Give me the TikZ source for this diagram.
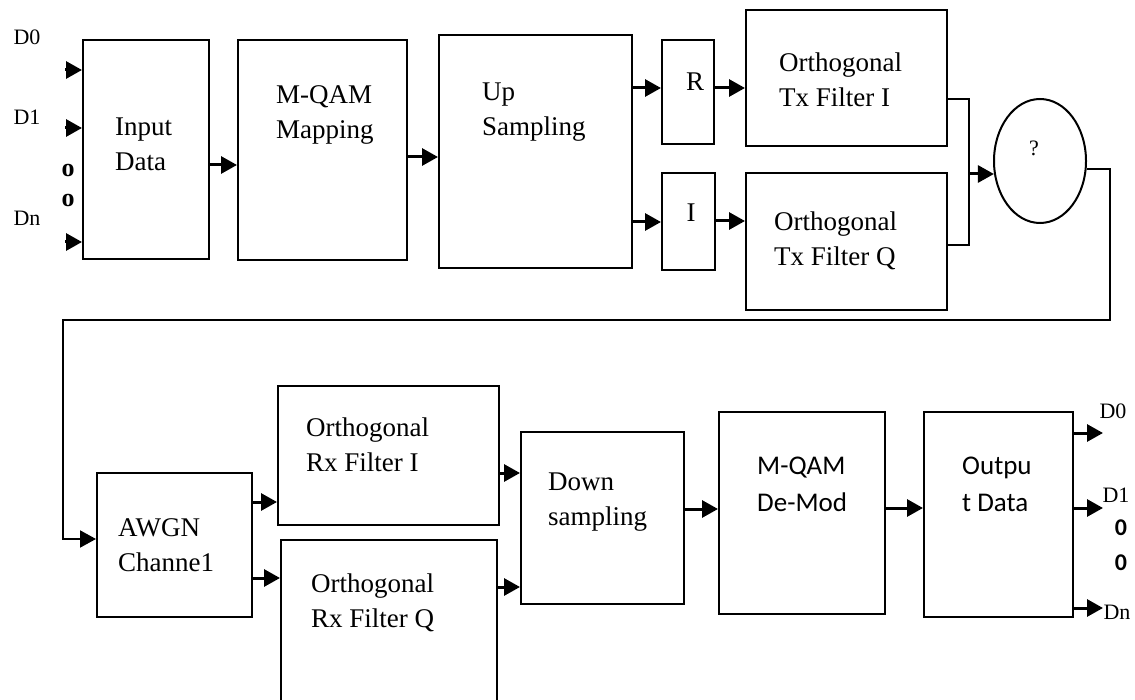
\documentclass[tikz,border=0pt]{standalone}
\usepackage{fontspec}
\setmainfont{Liberation Serif}
\newfontfamily\calfont{Carlito}
\usetikzlibrary{arrows.meta,shapes.geometric}

\tikzset{
  blk/.style={draw, line width=2pt, inner sep=0pt},
  txt/.style={inner sep=0pt, anchor=west, align=left, font=\fontsize{27}{35}\selectfont},
  sig/.style={inner sep=0pt, font=\fontsize{22}{26}\selectfont},
  arr/.style={-{Triangle[length=16pt,width=17pt]}, line width=3pt},
}

\begin{document}
\begin{tikzpicture}[x=1pt, y=-1pt]
    \useasboundingbox (0,0) rectangle (1135,700);
    \clip (0,0) rectangle (1135,700);

    % transmitter chain
    \node[blk, minimum width=126pt, minimum height=219pt] (inp) at (146,149.5) {};
    \node[blk, minimum width=169pt, minimum height=220pt] (map) at (322.5,150) {};
    \node[blk, minimum width=193pt, minimum height=233pt] (up) at (535.5,151.5) {};
    \node[blk, minimum width=52pt, minimum height=104pt] (rbox) at (688,92) {};
    \node[blk, minimum width=53pt, minimum height=97pt] (ibox) at (688.5,221.5) {};
    \node[blk, minimum width=201pt, minimum height=136pt] (txi) at (846.5,78) {};
    \node[blk, minimum width=201pt, minimum height=137pt] (txq) at (846.5,241.5) {};
    \node[blk, ellipse, minimum width=92pt, minimum height=124pt] (sum) at (1040,161) {};

    \node[txt] (inptxt) at (115,144) {Input\\Data};
    \node[txt] (maptxt) at (276,115) {M-QAM\\Mapping};
    \node[txt] (uptxt) at (482,112) {Up\\Sampling};
    \node[txt, anchor=center] (rtxt) at (695,82) {R};
    \node[txt, anchor=center] (itxt) at (691,213) {I};
    \node[txt] (txitxt) at (779,80) {Orthogonal\\Tx Filter I};
    \node[txt] (txqtxt) at (774,241) {Orthogonal\\Tx Filter Q};
    \node[sig] (qtxt) at (1034,148) {?};

    % input bits
    \node[sig] (d0in) at (27,37) {D0};
    \node[sig] (d1in) at (27,117) {D1};
    \node[sig] (dnin) at (27,218) {Dn};
    \node[sig, font=\fontsize{26}{30}\selectfont\bfseries] (dotin1) at (68,171) {o};
    \node[sig, font=\fontsize{26}{30}\selectfont\bfseries] (dotin2) at (68,201) {o};
    \foreach \y/\n in {70/0,128/1,242/n} {
        \coordinate (in\n) at (65,\y);
        \draw[arr] (in\n) -- (in\n -| inp.west);
    }

    \draw[arr] (inp.east |- 0,165) -- (map.west |- 0,165);
    \draw[arr] (map.east |- 0,157) -- (up.west |- 0,157);
    \draw[arr] (up.east |- 0,88) -- (rbox.west |- 0,88);
    \draw[arr] (up.east |- 0,222) -- (ibox.west |- 0,222);
    \draw[arr] (rbox.east |- 0,88) -- (txi.west |- 0,88);
    \draw[arr] (ibox.east |- 0,221) -- (txq.west |- 0,221);

    \coordinate (join) at (969,174);
    \draw[line width=2pt] (txi.east |- 0,99) -| (join) |- (txq.east |- 0,245);
    \draw[arr] (join) -- (join -| sum.195);

    % receiver chain
    \node[blk, minimum width=155pt, minimum height=144pt] (awgn) at (174.5,545) {};
    \node[blk, minimum width=221pt, minimum height=139pt] (rxi) at (388.5,455.5) {};
    \node[blk, minimum width=216pt, minimum height=180pt] (rxq) at (389,630) {};
    \node[blk, minimum width=163pt, minimum height=172pt] (down) at (602.5,518) {};
    \node[blk, minimum width=166pt, minimum height=202pt] (demod) at (802,513) {};
    \node[blk, minimum width=149pt, minimum height=205pt] (outd) at (998.5,514.5) {};

    \node[txt] (awgntxt) at (118,545) {AWGN\\Channe1};
    \node[txt] (rxitxt) at (306,445) {Orthogonal\\Rx Filter I};
    \node[txt] (rxqtxt) at (311,603) {Orthogonal\\Rx Filter Q};
    \node[txt] (downtxt) at (548,502) {Down\\sampling};
    \node[txt, font=\fontsize{27}{37}\calfont] (demodtxt) at (757,484) {M-QAM\\De-Mod};
    \node[txt, font=\fontsize{27}{37}\calfont] (outdtxt) at (962,484) {Outpu\\t Data};

    \coordinate (loopr) at (1110,320);
    \coordinate (loopl) at (63,320);
    \draw[arr, line width=2pt] (sum.-10) -| (loopr) -- (loopl) |- (awgn.west |- 0,539);

    \draw[arr] (awgn.east |- 0,502) -- (rxi.west |- 0,502);
    \draw[arr] (awgn.east |- 0,578) -- (rxq.west |- 0,578);
    \draw[arr] (rxi.east |- 0,473) -- (down.west |- 0,473);
    \draw[arr] (rxq.east |- 0,587) -- (down.west |- 0,587);
    \draw[arr] (down.east |- 0,509) -- (demod.west |- 0,509);
    \draw[arr] (demod.east |- 0,508) -- (outd.west |- 0,508);

    % output bits
    \foreach \y/\n in {433/0,508/1,608/n} {
        \coordinate (out\n) at (1103,\y);
        \draw[arr] (outd.east |- out\n) -- (out\n);
    }
    \node[sig] (d0out) at (1113,411) {D0};
    \node[sig] (d1out) at (1116,495) {D1};
    \node[sig] (dnout) at (1117,612) {Dn};
    \node[sig, font=\fontsize{24}{28}\calfont\bfseries] (dotout1) at (1121,528) {0};
    \node[sig, font=\fontsize{24}{28}\calfont\bfseries] (dotout2) at (1121,563) {0};
\end{tikzpicture}
\end{document}
